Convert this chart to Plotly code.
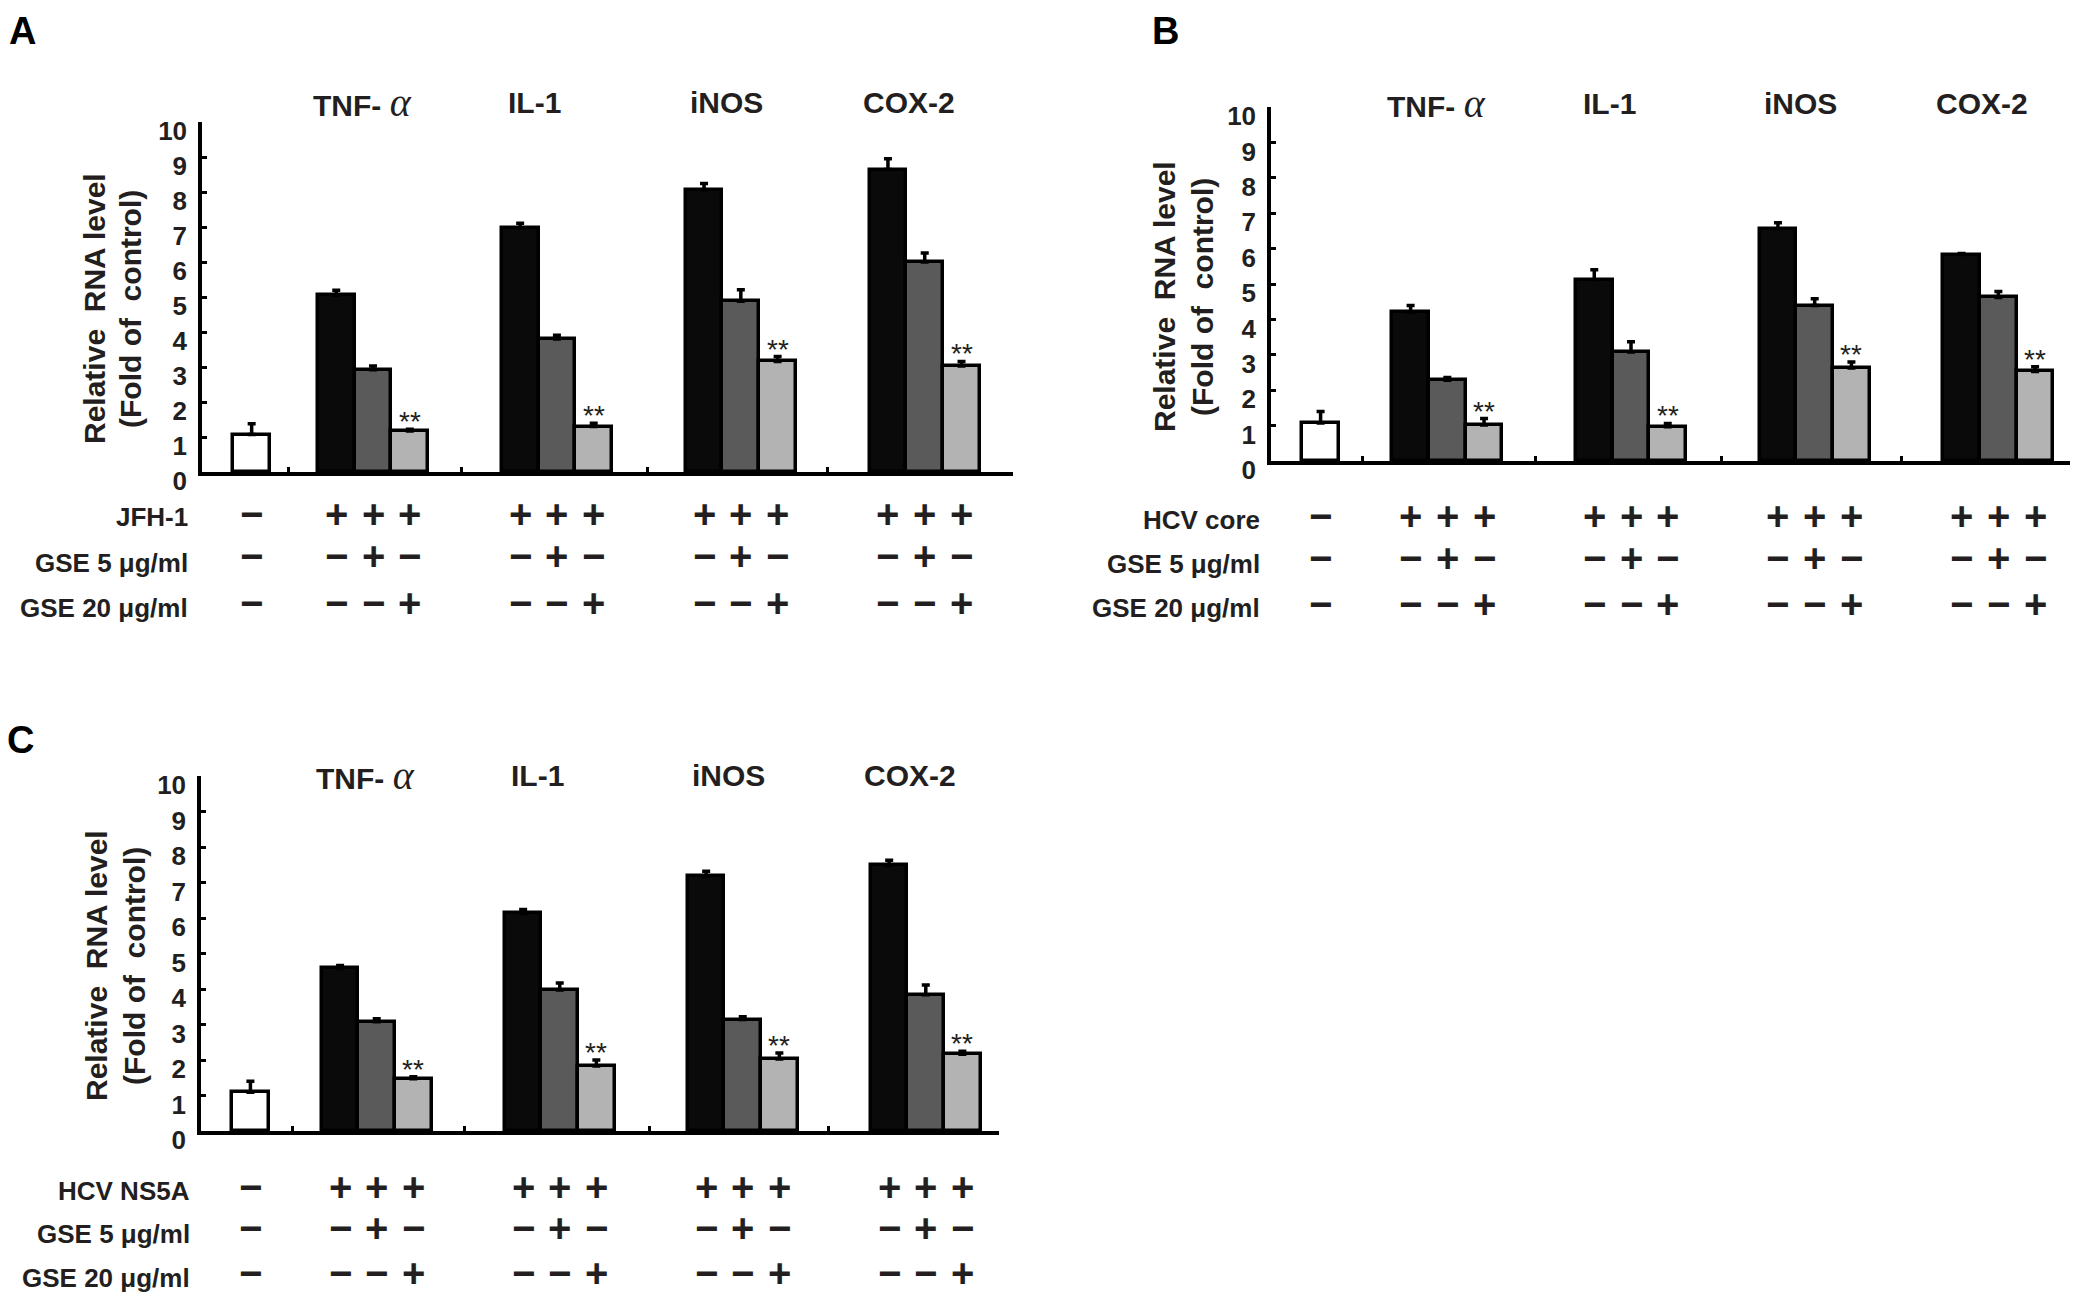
import plotly.graph_objects as go

W, H = 2079, 1297

# ---------------- data ----------------
genes = ["TNF-α", "IL-1", "iNOS", "COX-2"]
gene_labels = ["TNF- <span style='font-family:Liberation Serif;font-weight:normal;font-style:italic;font-size:40px'>α</span>",
               "IL-1", "iNOS", "COX-2"]

row_labels_A = ["JFH-1", "GSE 5 μg/ml", "GSE 20 μg/ml"]
row_labels_B = ["HCV core", "GSE 5 μg/ml", "GSE 20 μg/ml"]
row_labels_C = ["HCV NS5A", "GSE 5 μg/ml", "GSE 20 μg/ml"]

# treatment signs per row (virus, GSE 5, GSE 20): control column and the 3 bars of a gene group
ctrl_signs = ["−", "−", "−"]
group_signs = [["+", "+", "+"],
               ["−", "+", "−"],
               ["−", "−", "+"]]

# Panel A (JFH-1)
a_ctrl, a_ctrl_err = 1.07, 0.31
a_none = [5.05, 6.97, 8.05, 8.64]
a_none_err = [0.14, 0.14, 0.19, 0.31]
a_gse5 = [2.92, 3.80, 4.88, 6.00]
a_gse5_err = [0.11, 0.11, 0.33, 0.26]
a_gse20 = [1.17, 1.30, 3.16, 3.03]
a_gse20_err = [0.05, 0.09, 0.14, 0.13]

# Panel B (HCV core)
b_ctrl, b_ctrl_err = 1.07, 0.33
b_none = [4.20, 5.12, 6.56, 5.83]
b_none_err = [0.19, 0.28, 0.17, 0.03]
b_gse5 = [2.28, 3.08, 4.39, 4.62]
b_gse5_err = [0.08, 0.29, 0.19, 0.17]
b_gse20 = [1.02, 0.97, 2.63, 2.53]
b_gse20_err = [0.18, 0.09, 0.17, 0.13]

# Panel C (HCV NS5A)
c_ctrl, c_ctrl_err = 1.09, 0.31
c_none = [4.58, 6.13, 7.17, 7.48]
c_none_err = [0.08, 0.11, 0.15, 0.15]
c_gse5 = [3.08, 3.97, 3.14, 3.84]
c_gse5_err = [0.08, 0.20, 0.08, 0.27]
c_gse20 = [1.47, 1.83, 2.03, 2.16]
c_gse20_err = [0.06, 0.17, 0.17, 0.09]

y_ticks = [0, 1, 2, 3, 4, 5, 6, 7, 8, 9, 10]

# ---------------- styling / layout ----------------
TXT = "#231f20"
FONT = "Liberation Sans"
BAR_COLORS = ["#0a0a0a", "#5a5a5a", "#b3b3b3"]
BAR_W = 0.2
OFFSETS = [-0.2, 0.0, 0.2]
HEADER_SHIFT = [-11, -22, -14, -16]

panels = [
    dict(letter="A", letter_xy=(22, 31), xa="x", ya="y", xaxis="xaxis", yaxis="yaxis",
         xdom=(202, 1013), base=472, top=122, xr=(-0.93, 3.48), ctrl_x=-0.66,
         head_y=103, rows=row_labels_A, row_x=190, row_y=[517, 563, 608], sym_y=[514, 556, 603],
         title_x=(94, 130), title_y=309,
         ctrl=a_ctrl, ctrl_err=a_ctrl_err,
         series=[(a_none, a_none_err), (a_gse5, a_gse5_err), (a_gse20, a_gse20_err)]),
    dict(letter="B", letter_xy=(1165, 31), xa="x2", ya="y2", xaxis="xaxis2", yaxis="yaxis2",
         xdom=(1271, 2070), base=461, top=107, xr=(-0.96, 3.39), ctrl_x=-0.69,
         head_y=104, rows=row_labels_B, row_x=1262, row_y=[520, 564, 608], sym_y=[516, 558, 604],
         title_x=(1165, 1203), title_y=297,
         ctrl=b_ctrl, ctrl_err=b_ctrl_err,
         series=[(b_none, b_none_err), (b_gse5, b_gse5_err), (b_gse20, b_gse20_err)]),
    dict(letter="C", letter_xy=(20, 740), xa="x3", ya="y3", xaxis="xaxis3", yaxis="yaxis3",
         xdom=(201, 999), base=1131, top=776, xr=(-0.96, 3.40), ctrl_x=-0.69,
         head_y=775, rows=row_labels_C, row_x=192, row_y=[1191, 1234, 1278], sym_y=[1187, 1228, 1273],
         title_x=(96, 134), title_y=966,
         ctrl=c_ctrl, ctrl_err=c_ctrl_err,
         series=[(c_none, c_none_err), (c_gse5, c_gse5_err), (c_gse20, c_gse20_err)]),
]

X_TICKS = [-0.46, 0.48, 1.49, 2.47]


def fx(p):
    return p / W


def fy(p):
    return 1 - p / H


fig = go.Figure()
annotations = []
layout_axes = {}

for P in panels:
    # control bar
    fig.add_trace(go.Bar(
        x=[P["ctrl_x"]], y=[P["ctrl"]], width=BAR_W, xaxis=P["xa"], yaxis=P["ya"],
        marker=dict(color="white", line=dict(color="black", width=3.5)),
        error_y=dict(type="data", symmetric=False, array=[P["ctrl_err"]], arrayminus=[0],
                     color="black", thickness=3.5, width=4),
        showlegend=False, hoverinfo="skip"))
    # treatment bars
    for k, (vals, errs) in enumerate(P["series"]):
        xs = [i + OFFSETS[k] for i in range(len(genes))]
        fig.add_trace(go.Bar(
            x=xs, y=vals, width=BAR_W, xaxis=P["xa"], yaxis=P["ya"],
            marker=dict(color=BAR_COLORS[k], line=dict(color="black", width=3.5)),
            error_y=dict(type="data", symmetric=False, array=errs, arrayminus=[0] * len(errs),
                         color="black", thickness=3.5, width=4),
            showlegend=False, hoverinfo="skip"))
        if k == 2:
            for x, v, e in zip(xs, vals, errs):
                annotations.append(dict(
                    x=x, y=v + e, xref=P["xa"], yref=P["ya"], text="**", showarrow=False,
                    yanchor="bottom", yshift=-10,
                    font=dict(family=FONT, size=28, color=TXT)))

    # axes
    layout_axes[P["xaxis"]] = dict(
        domain=[fx(P["xdom"][0]), fx(P["xdom"][1])], range=list(P["xr"]),
        showline=True, linecolor="black", linewidth=3.5, showgrid=False, zeroline=False,
        ticks="inside", ticklen=5, tickwidth=3, tickcolor="black", automargin=False,
        tickvals=X_TICKS + [P["xr"][1]], showticklabels=False, anchor=P["ya"], fixedrange=True)
    layout_axes[P["yaxis"]] = dict(
        domain=[fy(P["base"]), fy(P["top"])], range=[0, 10],
        showline=True, linecolor="black", linewidth=3.5, showgrid=False, zeroline=False,
        ticks="inside", ticklen=5, tickwidth=3, tickcolor="black", automargin=False,
        tickvals=y_ticks, ticktext=[str(t) for t in y_ticks],
        tickfont=dict(family=FONT, size=26, color=TXT, weight="bold"),
        ticklabelshift=9, ticklabelstandoff=6,
        anchor=P["xa"], fixedrange=True)

    # gene headers
    for i, g in enumerate(gene_labels):
        annotations.append(dict(
            x=i, y=fy(P["head_y"]), xref=P["xa"], yref="paper", text=g, showarrow=False,
            xanchor="center", yanchor="middle", xshift=HEADER_SHIFT[i],
            font=dict(family=FONT, size=30, color=TXT, weight="bold")))

    # row labels
    for r, lab in enumerate(P["rows"]):
        annotations.append(dict(
            x=fx(P["row_x"]), y=fy(P["row_y"][r]), xref="paper", yref="paper", text=lab,
            showarrow=False, xanchor="right", yanchor="middle",
            font=dict(family=FONT, size=26, color=TXT, weight="bold")))

    # +/- signs
    for r in range(3):
        cells = [(P["ctrl_x"], ctrl_signs[r])]
        for i in range(len(genes)):
            for k in range(3):
                cells.append((i + OFFSETS[k], group_signs[r][k]))
        for x, s in cells:
            annotations.append(dict(
                x=x, y=fy(P["sym_y"][r]), xref=P["xa"], yref="paper", text=s, showarrow=False,
                xanchor="center", yanchor="middle",
                font=dict(family=FONT, size=40, color=TXT, weight="bold")))

    # y-axis title (two lines)
    for text, tx in zip(["Relative\u00a0\u00a0RNA level", "(Fold of\u00a0\u00a0control)"], P["title_x"]):
        annotations.append(dict(
            x=fx(tx), y=fy(P["title_y"]), xref="paper", yref="paper", text=text,
            showarrow=False, textangle=-90, xanchor="center", yanchor="middle",
            font=dict(family=FONT, size=30, color=TXT, weight="bold")))

    # panel letter
    annotations.append(dict(
        x=fx(P["letter_xy"][0]), y=fy(P["letter_xy"][1]), xref="paper", yref="paper",
        text=P["letter"], showarrow=False, xanchor="center", yanchor="middle",
        font=dict(family=FONT, size=38, color="black", weight="bold")))

fig.update_layout(
    template="none",
    width=W, height=H, margin=dict(l=0, r=0, t=0, b=0, pad=0, autoexpand=False),
    paper_bgcolor="white", plot_bgcolor="white",
    barmode="overlay", bargap=0, showlegend=False,
    annotations=annotations, **layout_axes)

fig.write_html("out.html", config={"displayModeBar": False},
               post_script="document.body.style.margin='0px';document.body.style.overflow='hidden';")
